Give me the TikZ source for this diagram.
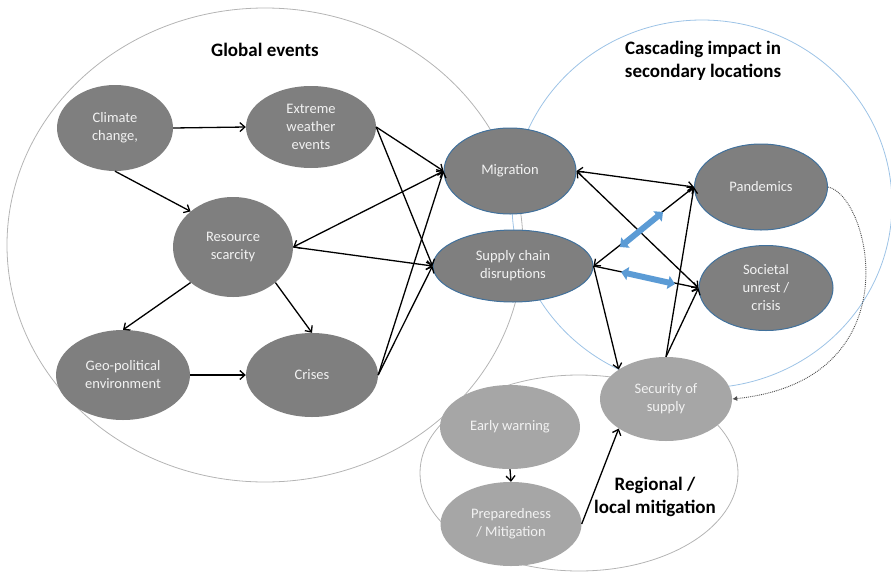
\documentclass[tikz,border=0pt]{standalone}
\usepackage{fontspec}
\setmainfont{Carlito}
\usetikzlibrary{arrows.meta,shapes.geometric}

\definecolor{eventgray}{HTML}{7F7F7F}
\definecolor{mitigationgray}{HTML}{A6A6A6}
\definecolor{impactblue}{HTML}{41719C}
\definecolor{ringblue}{HTML}{9DC3E6}
\definecolor{ringgray}{HTML}{B4B4B4}
\definecolor{arrowblue}{HTML}{5B9BD5}

\begin{document}
\begin{tikzpicture}[x=1pt, y=-1pt, >={Straight Barb[length=5pt,width=9pt]},
	every event/.style={ellipse, fill=eventgray, text=white!95!black, inner sep=0pt, align=center,
		font=\fontsize{14.5}{18}\selectfont},
	event/.style 2 args={every event, minimum width=#1pt, minimum height=#2pt},
	impact/.style={draw=impactblue, line width=1pt},
	mitigation/.style={fill=mitigationgray},
	heading/.style={align=center, font=\bfseries\fontsize{19}{23}\selectfont},
	ring/.style={line width=0.8pt},
	link/.style={->, line width=1.3pt},
	both link/.style={<->, line width=1.3pt},
	block arrow/.style={line width=6pt, arrowblue,
		{Triangle[length=7pt,width=13pt]}-{Triangle[length=7pt,width=13pt]}}]

	\useasboundingbox (0,0) rectangle (891,573);

	% rings
	\draw [ring, ringgray] (265,245) ellipse [x radius=258pt, y radius=237pt];
	\draw [ring, ringblue] (702,204) ellipse [x radius=190pt, y radius=184pt];
	\draw [ring, ringgray] (579,473) ellipse [x radius=159pt, y radius=98pt];

	% headings
	\node [heading] (global-title) at (265,50) {Global events};
	\node [heading] (cascade-title) at (703,61) {Cascading impact in\\secondary locations};

	% global events
	\node [event={116}{86}] (climate) at (115,128) {Climate\\change,};
	\node [event={130}{82}] (extreme) at (311,127) {Extreme\\weather\\events};
	\node [event={120}{100}] (resource) at (233,247) {Resource\\scarcity};
	\node [event={134}{90}] (geo) at (123,375) {Geo-political\\environment};
	\node [event={132}{84}] (crises) at (312,375) {Crises};

	% cascading impact
	\node [event={132}{86}, impact] (migration) at (510,171) {Migration};
	\node [event={160}{72}, impact] (supply) at (513,266) {Supply chain\\disruptions};
	\node [event={133}{86}, impact] (pandemics) at (761,187) {Pandemics};
	\node [event={134}{85}, impact] (societal) at (766,288) {Societal\\unrest /\\crisis};

	% regional mitigation
	\node [event={132}{84}, mitigation] (security) at (666,399) {Security of\\supply};
	\node [event={140}{84}, mitigation] (early) at (510,427) {Early warning};
	\node [event={141}{84}, mitigation] (prep) at (511,524) {Preparedness\\/ Mitigation};
	\node [heading] (regional-title) at (655,497) {Regional /\\local mitigation};

	% one way links
	\foreach \a/\b in {climate.east/extreme.west, climate.south/resource.140,
		extreme.east/migration.west, extreme.east/supply.west, resource.east/supply.west,
		resource.220/geo.north, resource.320/crises.north, geo.east/crises.west,
		crises.east/migration.west, crises.east/supply.west,
		supply.east/societal.west, supply.east/security.148,
		security.north/pandemics.west, security.north/societal.west,
		early.south/prep.north, prep.east/security.212}
		\draw [link] (\a) -- (\b);

	% two way links
	\foreach \a/\b in {resource.east/migration.west, migration.east/pandemics.west,
		migration.east/societal.west, supply.east/pandemics.west}
		\draw [both link] (\a) -- (\b);

	% blue arrows
	\coordinate (blue-1a) at (620,247);
	\coordinate (blue-1b) at (663,212);
	\coordinate (blue-2a) at (621,272);
	\coordinate (blue-2b) at (675,284);
	\foreach \i in {1,2}
		\draw [block arrow] (blue-\i a) -- (blue-\i b);

	% feedback
	\draw [densely dotted, line width=0.9pt, black!70, -{Latex[length=5pt,width=5pt]}]
		(pandemics.east) .. controls (870,195) and (915,380) .. (security.east);

\end{tikzpicture}
\end{document}
